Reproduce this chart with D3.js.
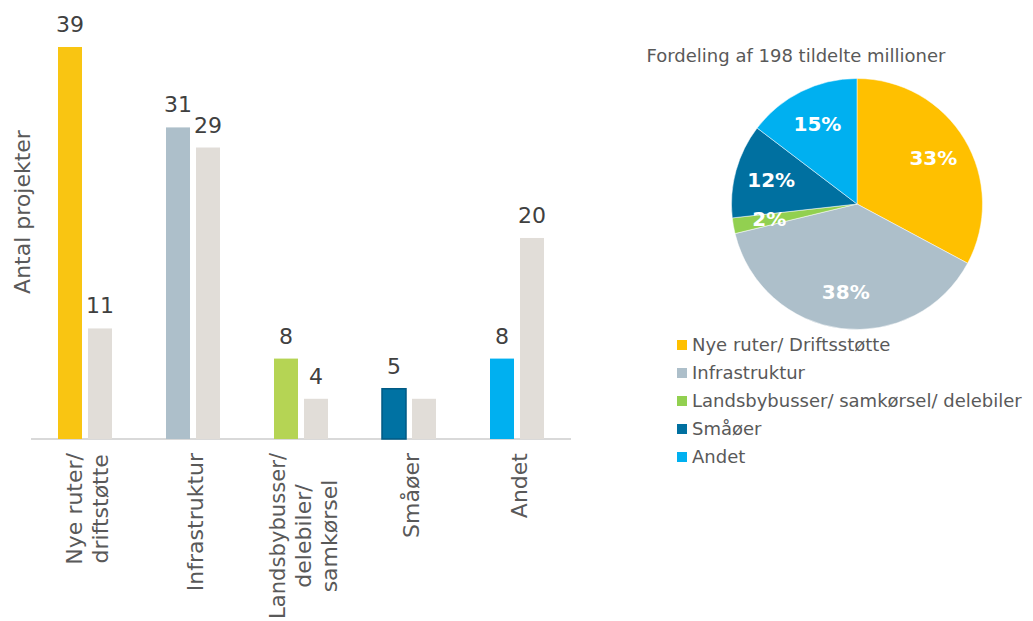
<!DOCTYPE html>
<meta charset="utf-8">
<style>
body { margin: 0; background: #fff; }
text { font-family: "DejaVu Sans", Verdana, sans-serif; }
</style>
<svg width="1033" height="621"></svg>
<script src="https://d3js.org/d3.v7.min.js"></script>
<script>

// bar chart data
var catLines = [["Nye ruter/", "driftstøtte"], ["Infrastruktur"], ["Landsbybusser/", "delebiler/", "samkørsel"], ["Småøer"], ["Andet"]];
var projA = [39, 31, 8, 5, 8];
var projB = [11, 29, 4, 4, 20];
// the grey Småøer bar carries no label in the original
var labelB = ["11", "29", "4", "", "20"];
var catColors = ["#F9C512", "#ADBFCA", "#B5D454", "#0072A3", "#00B0F0"];
var greyColor = "#E1DDD8";

// pie data (millioner)
var pieTitle = "Fordeling af 198 tildelte millioner";
var pieNames = ["Nye ruter/ Driftsstøtte", "Infrastruktur", "Landsbybusser/ samkørsel/ delebiler", "Småøer", "Andet"];
var pieValues = [65, 76, 4, 24, 29];
var pieColors = ["#FFC000", "#ADBFCA", "#92D050", "#0070A0", "#00B0F0"];

var svg = d3.select("svg");

// ---- bars ----
var x = d3.scaleBand().domain(d3.range(catLines.length)).range([31, 571])
    .paddingInner(0.5).paddingOuter(0.25);
var xs = d3.scaleBand().domain([0, 1]).range([0, x.bandwidth()]).paddingInner(0.2);
var y = d3.scaleLinear().domain([0, 39]).range([439, 47]);

svg.append("line")
    .attr("x1", 31).attr("x2", 571)
    .attr("y1", y(0)).attr("y2", y(0))
    .attr("stroke", "#D9D9D9").attr("stroke-width", 2);

var groups = svg.append("g").selectAll("g")
    .data(catLines).enter().append("g")
    .attr("transform", function(d, i) { return "translate(" + x(i) + ",0)"; });

groups.each(function(d, i) {
  var g = d3.select(this);
  var vals = [projA[i], projB[i]];
  var labs = [String(projA[i]), labelB[i]];
  vals.forEach(function(v, k) {
    g.append("rect")
      .attr("x", xs(k))
      .attr("width", xs.bandwidth())
      .attr("y", y(v))
      .attr("height", y(0) - y(v))
      .attr("fill", k == 0 ? catColors[i] : greyColor)
      .attr("stroke", (k == 0 && i == 3) ? "#005A84" : "none")
      .attr("stroke-width", 1.5);
    g.append("text")
      .attr("x", xs(k) + xs.bandwidth() / 2)
      .attr("y", y(v) - 15)
      .attr("text-anchor", "middle")
      .attr("font-size", 22)
      .attr("fill", "#404040")
      .text(labs[k]);
  });
});

// category labels, rotated, lines centred, block hanging from the axis
var labelTop = 453, maxRoom = 621 - labelTop - 2;
catLines.forEach(function(lines, i) {
  var g = svg.append("g")
    .attr("transform", "translate(" + (x(i) + x.bandwidth() / 2 + 2) + "," + labelTop + ") rotate(-90)");
  var texts = g.selectAll("text").data(lines).enter().append("text")
    .attr("font-size", 22)
    .attr("fill", "#595959")
    .attr("text-anchor", "middle")
    .attr("dy", "0.35em")
    .attr("y", function(d, j) { return (j - (lines.length - 1) / 2) * 26; })
    .text(function(d) { return d; });
  // squeeze a line that would run past the bottom edge
  texts.each(function() {
    if (this.getComputedTextLength() > maxRoom)
      d3.select(this).attr("textLength", maxRoom).attr("lengthAdjust", "spacingAndGlyphs");
  });
  var maxLen = d3.max(texts.nodes(), function(n) { return Math.min(n.getComputedTextLength(), maxRoom); });
  texts.attr("x", -maxLen / 2);
});

svg.append("text")
    .attr("transform", "translate(30,212) rotate(-90)")
    .attr("text-anchor", "middle")
    .attr("font-size", 22)
    .attr("fill", "#595959")
    .text("Antal projekter");

// ---- pie ----
var cx = 857, cy = 204, r = 125.5;
var pie = d3.pie().sort(null);
var arc = d3.arc().innerRadius(0).outerRadius(r);
var labelArc = d3.arc().innerRadius(89).outerRadius(89);
var total = d3.sum(pieValues);

svg.append("text")
    .attr("x", 796).attr("y", 62)
    .attr("text-anchor", "middle")
    .attr("font-size", 18)
    .attr("fill", "#595959")
    .text(pieTitle);

var pg = svg.append("g").attr("transform", "translate(" + cx + "," + cy + ")");
var arcs = pie(pieValues);

pg.selectAll("path").data(arcs).enter().append("path")
    .attr("d", arc)
    .attr("fill", function(d, i) { return pieColors[i]; })
    .attr("stroke", "#fff")
    .attr("stroke-width", 0.5);

pg.selectAll("text").data(arcs).enter().append("text")
    .attr("transform", function(d) { return "translate(" + labelArc.centroid(d) + ")"; })
    .attr("text-anchor", "middle")
    .attr("dy", "0.35em")
    .attr("font-size", 20)
    .attr("font-weight", "bold")
    .attr("fill", "#fff")
    .text(function(d) { return d3.format(".0%")(d.value / total); });

// legend
var leg = svg.append("g").selectAll("g")
    .data(pieNames).enter().append("g")
    .attr("transform", function(d, i) { return "translate(677," + (345 + i * 28) + ")"; });

leg.append("rect")
    .attr("x", 0).attr("y", -5)
    .attr("width", 10).attr("height", 10)
    .attr("fill", function(d, i) { return pieColors[i]; });

leg.append("text")
    .attr("x", 15)
    .attr("dy", "0.35em")
    .attr("font-size", 18)
    .attr("fill", "#595959")
    .text(function(d) { return d; });

</script>
